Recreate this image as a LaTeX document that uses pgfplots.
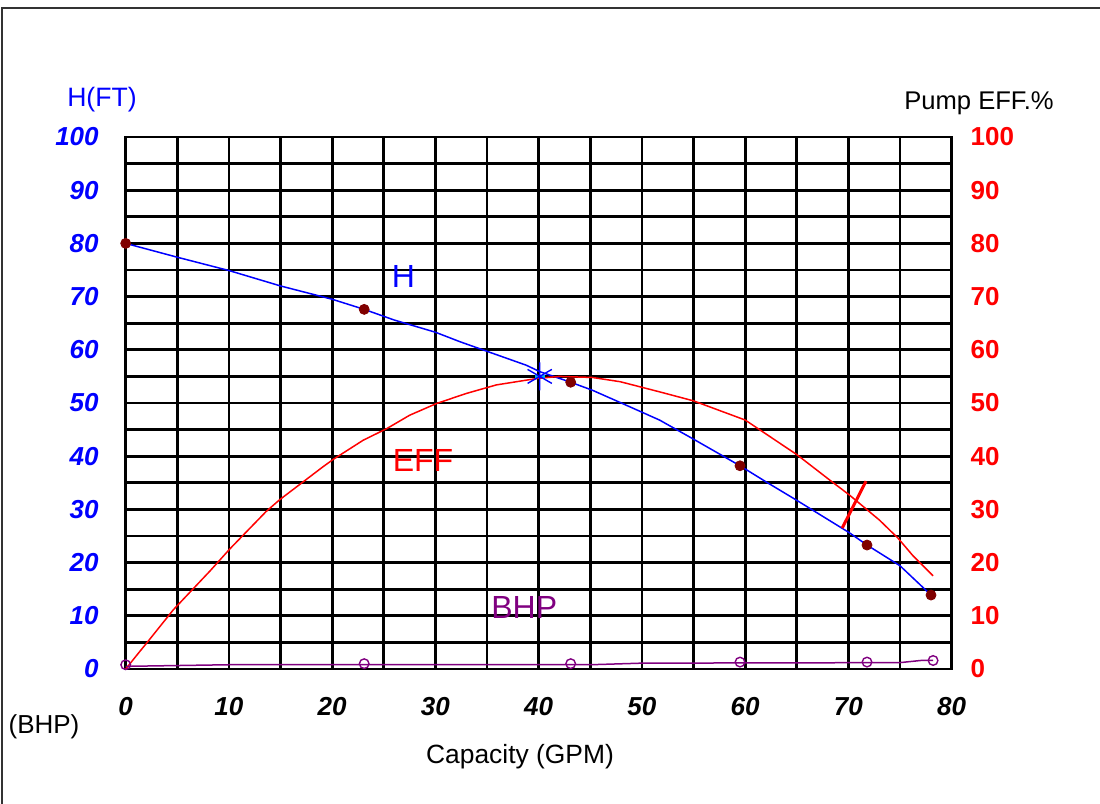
\documentclass[border=0pt]{standalone}
\usepackage{fontspec}
\setmainfont{Liberation Sans}
\usepackage{pgfplots}
\pgfplotsset{compat=1.18}
\definecolor{dred}{RGB}{128,0,0}
\definecolor{bpurple}{RGB}{128,0,128}
\newcommand{\tfont}{\fontsize{13}{15}\selectfont}
\begin{document}
\begin{tikzpicture}
\useasboundingbox (-62.85pt,-67.5pt) rectangle (487.15pt,334.5pt);
\draw[line width=1pt, black!80] (-61.85pt,-67.5pt) -- (-61.85pt,330.5pt) -- (487.15pt,330.5pt);
\begin{axis}[at={(0pt,0pt)}, anchor=south west, scale only axis,
  width=413pt, height=266pt,
  xmin=0, xmax=80, ymin=0, ymax=100,
  xtick={0,10,...,80}, minor xtick={5,15,...,75},
  ytick={0,10,...,100}, minor ytick={5,15,...,95},
  grid=both,
  major grid style={line width=1.4pt,black},
  minor grid style={line width=1.4pt,black},
  axis line style={line width=1.4pt},
  major tick length=0pt, minor tick length=0pt,
  ytick pos=left, xtick pos=bottom,
  /pgf/number format/assume math mode=true,
  yticklabel style={font=\tfont\bfseries\itshape, text=blue, anchor=east, xshift=-10pt},
  xticklabel style={font=\tfont\bfseries\itshape, text=black, anchor=north, yshift=-10.5pt},
  clip=false]
% H curve
\addplot[blue, line width=0.75pt] coordinates {
 (0,80) (5,77.4) (10,74.9) (15,72) (20,69.5) (23.1,67.6) (26,65.6)
 (30,63.3) (32.4,61.5) (35.6,59.3) (38.8,57.1) (40.1,55.9) (43.1,53.9)
 (45.2,52.4) (48,50) (51.7,46.8) (55,43.2) (59.5,38.2) (62,35.2) (65,31.7)
 (70.1,25.6) (71.8,23.3) (75,19.4) (78,13.9)};
% EFF curve
\addplot[red, line width=0.75pt] coordinates {
 (0,0) (1.2,2.9) (2,4.8) (4.6,11.1) (6.4,14.8) (8.2,18.5) (10.1,22.6)
 (13.6,29.6) (14.9,31.8) (19.1,38) (20.1,39.4) (23,43) (25.3,45.2) (27.5,47.7)
 (30.1,49.9) (33,51.8) (35.9,53.4) (39.8,54.6) (42,55) (45.2,54.8) (47.9,54)
 (51.7,52.1) (55,50.4) (60,46.8) (65,40.3) (68.2,35.5) (70.1,32.7) (73,28)
 (74.8,24.6) (76.2,21.4) (78.2,17.5)};
% BHP curve
\addplot[bpurple, line width=0.75pt] coordinates {
 (0,0.5) (10,0.8) (45,0.8) (50,1.1) (75,1.2) (77,1.6) (78.2,1.6)};
% H points
\addplot[only marks, mark=*, mark size=2.5pt, dred] coordinates {
 (0,80) (23.1,67.6) (43.1,53.9) (59.5,38.2) (71.8,23.3) (78.0,13.9)};
% BHP points
\addplot[only marks, mark=o, mark size=2.4pt, bpurple, mark options={line width=0.7pt}] coordinates {
 (0,0.8) (23.1,1.0) (43.1,1.0) (59.5,1.3) (71.8,1.3) (78.2,1.6)};
% duty point star
\addplot[only marks, mark=-, mark size=2.5pt, cyan, mark options={line width=1.2pt}] coordinates {(40.1,55)};
\addplot[only marks, mark=asterisk, mark size=7pt, blue, mark options={line width=0.7pt}] coordinates {(40.1,55)};
% efficiency slash
\addplot[red, line width=1.5pt] coordinates {(69.4,26.5) (71.7,35.3)};
\node[text=blue, font=\fontsize{16}{18}\selectfont] at (axis cs:26.9,73.7) {H};
\node[text=red, font=\fontsize{16}{18}\selectfont] at (axis cs:28.8,39.1) {EFF};
\node[text=bpurple, font=\fontsize{16}{18}\selectfont] at (axis cs:38.6,11.5) {BHP};
\end{axis}
\begin{axis}[at={(0pt,0pt)}, anchor=south west, scale only axis,
  width=413pt, height=266pt,
  xmin=0, xmax=80, ymin=0, ymax=100,
  hide x axis, axis y line*=right,
  y axis line style={draw=none},
  ytick={0,10,...,100}, major tick length=0pt,
  /pgf/number format/assume math mode=true,
  yticklabel style={font=\tfont\bfseries, text=red, anchor=west, xshift=6pt}]
\addplot[draw=none] coordinates {(0,0)};
\end{axis}
\node[text=blue, font=\fontsize{13.3}{15}\selectfont] at (-11.85pt,284.5pt) {H(FT)};
\node[font=\fontsize{12.8}{15}\selectfont] at (426.65pt,283pt) {Pump EFF.\%};
\node[font=\fontsize{13}{15}\selectfont] at (-40.85pt,-29pt) {(BHP)};
\node[font=\fontsize{13.2}{15}\selectfont] at (197.15pt,-44pt) {Capacity (GPM)};
\end{tikzpicture}
\end{document}
